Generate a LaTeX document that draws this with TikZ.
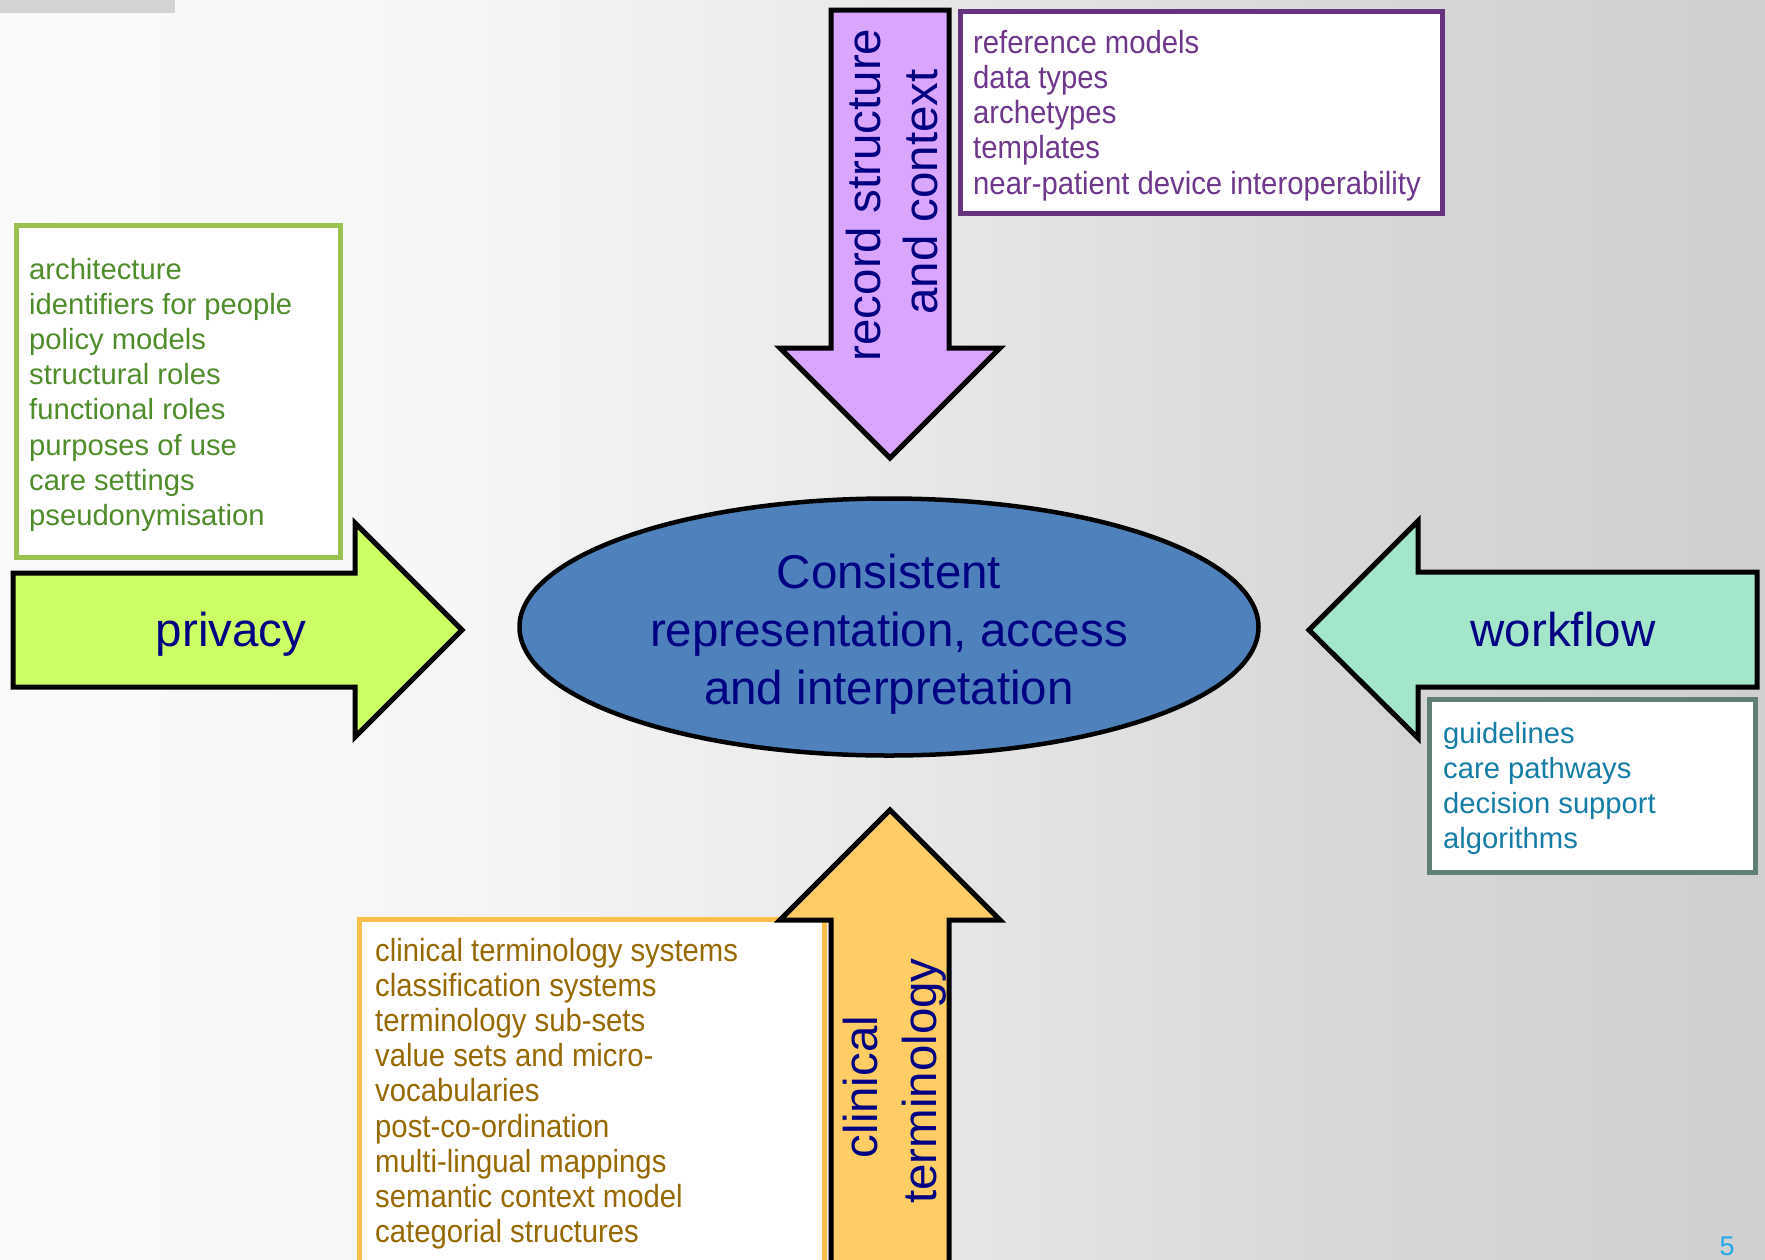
\documentclass[tikz,border=0pt]{standalone}
\usepackage{fontspec}
\setmainfont{Liberation Sans}
\newfontfamily\narrowsans[FakeStretch=0.915]{Liberation Sans}
\usetikzlibrary{shapes.geometric}

% background tones
\definecolor{bgA}{HTML}{FAFAFA}
\definecolor{bgB}{HTML}{F6F6F6}
\definecolor{bgC}{HTML}{ECECEC}
\definecolor{bgD}{HTML}{D8D8D8}
\definecolor{bgE}{HTML}{CFCFCF}
\definecolor{titlebar}{HTML}{D3D3D3}
% theme colours
\definecolor{navytext}{HTML}{000080}
\definecolor{recfill}{HTML}{DAA5FF}
\definecolor{recline}{HTML}{66337F}
\definecolor{rectext}{HTML}{6E378C}
\definecolor{privfill}{HTML}{CCFF66}
\definecolor{privline}{HTML}{9BC250}
\definecolor{privtext}{HTML}{4F8C2A}
\definecolor{workfill}{HTML}{A3E6CA}
\definecolor{workline}{HTML}{5F8073}
\definecolor{worktext}{HTML}{147DA5}
\definecolor{termfill}{HTML}{FFCC66}
\definecolor{termline}{HTML}{FFC04A}
\definecolor{termtext}{HTML}{966900}
\definecolor{corefill}{HTML}{4F81BD}
\definecolor{pagenum}{HTML}{1EAAEB}

\pgfdeclarehorizontalshading{slidebg}{100bp}{%
  color(0bp)=(bgA); color(25bp)=(bgA); color(37.5bp)=(bgB);
  color(47.5bp)=(bgC); color(62.5bp)=(bgD); color(75bp)=(bgE); color(100bp)=(bgE)}

\tikzset{
  arrowshape/.style={draw=black, line width=5pt, line join=miter},
  listbox/.style={fill=white, line width=5pt},
  bigtext/.style={font=\fontsize{47.5}{57}\selectfont, text=navytext, inner sep=0pt, anchor=base},
  listtext/.style={font=\fontsize{29.2}{35}\selectfont, inner sep=0pt, anchor=base west},
  narrowtext/.style={font=\narrowsans\fontsize{32}{35}\selectfont, inner sep=0pt, anchor=base west},
}

\begin{document}
\begin{tikzpicture}[x=1pt, y=-1pt]
  \useasboundingbox (0,0) rectangle (1765,1259);
  \clip (0,0) rectangle (1765,1259);

  % slide background and title bar remnant
  \shade[shading=slidebg] (0,0) rectangle (1765,1259);
  \fill[titlebar] (0,0) rectangle (175,13);

  % ---- record structure and context (top) ----
  \draw[listbox, draw=recline] (960,11) rectangle (1442,213);
  \foreach \t [count=\i] in {reference models, data types, archetypes, templates,
      near-patient device interoperability}
    \node[narrowtext, text=rectext] (rec-item-\i) at (973,{53.3+35.2*(\i-1)}) {\t};
  \draw[arrowshape, fill=recfill]
    (831,10) -- (949,10) -- (949,348) -- (1000,348) -- (890,458)
    -- (780,348) -- (831,348) -- cycle;
  \node[bigtext, rotate=90] (rec1) at (880,195) {record structure};
  \node[bigtext, rotate=90] (rec2) at (937,192) {and context};

  % ---- privacy (left) ----
  \draw[listbox, draw=privline] (16,225) rectangle (340,557);
  \foreach \t [count=\i] in {architecture, identifiers for people, policy models,
      structural roles, functional roles, purposes of use, care settings,
      pseudonymisation}
    \node[listtext, text=privtext] (priv-item-\i) at (29,{279+35.2*(\i-1)}) {\t};
  \draw[arrowshape, fill=privfill]
    (13,573) -- (355,573) -- (355,523) -- (462,630) -- (355,737)
    -- (355,687) -- (13,687) -- cycle;
  \node[bigtext] (priv) at (231,646) {privacy};

  % ---- workflow (right) ----
  \draw[listbox, draw=workline] (1429,699) rectangle (1755,872);
  \foreach \t [count=\i] in {guidelines, care pathways, decision support, algorithms}
    \node[listtext, text=worktext] (work-item-\i) at (1443,{743+35.2*(\i-1)}) {\t};
  \draw[arrowshape, fill=workfill]
    (1757,572) -- (1418,572) -- (1418,521) -- (1309,630) -- (1418,738)
    -- (1418,687) -- (1757,687) -- cycle;
  \node[bigtext] (work) at (1563,646) {workflow};

  % ---- clinical terminology (bottom) ----
  \draw[listbox, draw=termline] (359,919) rectangle (824,1290);
  \foreach \t [count=\i] in {clinical terminology systems, classification systems,
      terminology sub-sets, value sets and micro-, vocabularies, post-co-ordination,
      multi-lingual mappings, semantic context model, categorial structures}
    \node[narrowtext, text=termtext] (term-item-\i) at (375,{961+35.2*(\i-1)}) {\t};
  \draw[arrowshape, fill=termfill]
    (831,1290) -- (831,920) -- (780,920) -- (890,810) -- (1000,920)
    -- (949,920) -- (949,1290) -- cycle;
  \node[bigtext, rotate=90] (term1) at (877,1087) {clinical};
  \node[bigtext, rotate=90] (term2) at (936,1081) {terminology};

  % ---- centre ----
  \node[ellipse, draw=black, line width=4.5pt, fill=corefill,
        minimum width=739pt, minimum height=257pt, inner sep=0pt] (core) at (889,627) {};
  \node[bigtext] (core1) at (889,588) {Consistent};
  \node[bigtext] (core2) at (889,646) {representation, access};
  \node[bigtext] (core3) at (889,704) {and interpretation};

  % slide number
  \node[font=\fontsize{27}{30}\selectfont, text=pagenum, inner sep=0pt, anchor=base]
    (pageno) at (1727,1255) {5};
\end{tikzpicture}
\end{document}
